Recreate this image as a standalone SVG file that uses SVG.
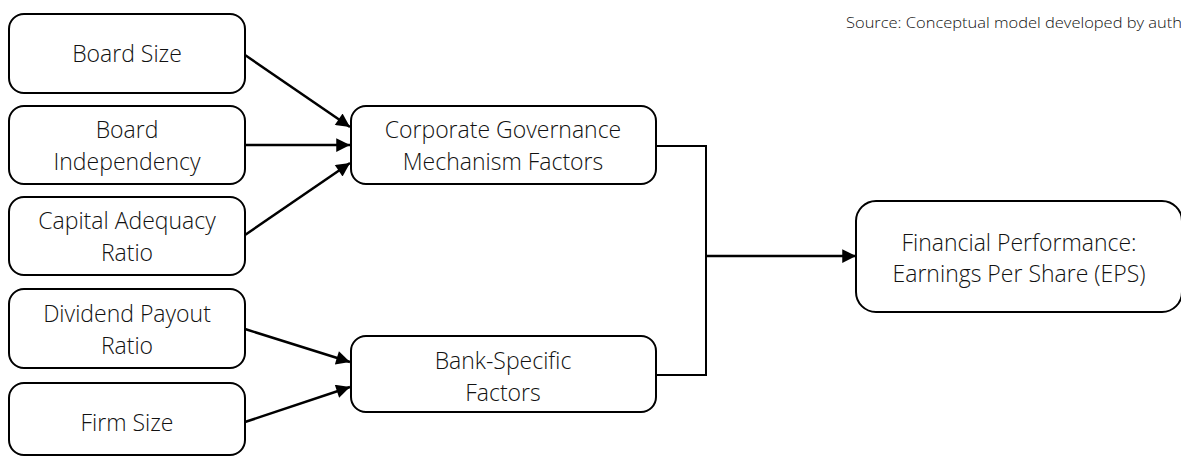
<svg xmlns="http://www.w3.org/2000/svg" width="1181" height="456" viewBox="0 0 1181 456">
  <defs>
    <marker id="arrow" viewBox="0 0 10 10" refX="10" refY="5" markerWidth="7" markerHeight="5.5" markerUnits="strokeWidth" orient="auto">
      <path d="M0,0 L10,5 L0,10 z" fill="#000"/>
    </marker>
  </defs>
  <style>
    .box { fill: #fff; stroke: #000; stroke-width: 2; }
    .lbl { font-family: "Open Sans", "Liberation Sans", sans-serif; font-weight: 300; font-size: 23px; fill: #111; text-anchor: middle; }
    .src { font-family: "Open Sans", "Liberation Sans", sans-serif; font-weight: 300; font-size: 14px; fill: #111; }
    .edge { fill: none; stroke: #000; stroke-width: 2.5; }
    .join { fill: none; stroke: #000; stroke-width: 2; }
  </style>
  <rect width="1181" height="456" fill="#fff"/>

  <text class="src" x="846" y="28" textLength="336" lengthAdjust="spacingAndGlyphs">Source: Conceptual model developed by auth</text>

  <g id="connectors">
    <line class="edge" x1="245" y1="55" x2="350" y2="127" marker-end="url(#arrow)"/>
    <line class="edge" x1="245" y1="145" x2="350" y2="145" marker-end="url(#arrow)"/>
    <line class="edge" x1="245" y1="235" x2="350" y2="163" marker-end="url(#arrow)"/>
    <line class="edge" x1="245" y1="329" x2="350" y2="362" marker-end="url(#arrow)"/>
    <line class="edge" x1="245" y1="422" x2="350" y2="387" marker-end="url(#arrow)"/>
    <polyline class="join" points="656,146 706,146 706,375 656,375"/>
    <line class="edge" x1="706" y1="256" x2="856" y2="256" marker-end="url(#arrow)"/>
  </g>

  <g id="board-size">
    <rect class="box" x="9" y="14" width="236" height="79" rx="15"/>
    <text class="lbl" x="127" y="62">Board Size</text>
  </g>
  <g id="board-independency">
    <rect class="box" x="9" y="106" width="236" height="78" rx="15"/>
    <text class="lbl" x="127" y="138">Board</text>
    <text class="lbl" x="127" y="170">Independency</text>
  </g>
  <g id="capital-adequacy">
    <rect class="box" x="9" y="197" width="236" height="78" rx="15"/>
    <text class="lbl" x="127" y="229">Capital Adequacy</text>
    <text class="lbl" x="127" y="261">Ratio</text>
  </g>
  <g id="dividend-payout">
    <rect class="box" x="9" y="289" width="236" height="79" rx="15"/>
    <text class="lbl" x="127" y="322">Dividend Payout</text>
    <text class="lbl" x="127" y="354">Ratio</text>
  </g>
  <g id="firm-size">
    <rect class="box" x="9" y="383" width="236" height="72" rx="15"/>
    <text class="lbl" x="127" y="431">Firm Size</text>
  </g>
  <g id="corporate-governance">
    <rect class="box" x="351" y="106" width="305" height="78" rx="15"/>
    <text class="lbl" x="503" y="138">Corporate Governance</text>
    <text class="lbl" x="503" y="170">Mechanism Factors</text>
  </g>
  <g id="bank-specific">
    <rect class="box" x="351" y="336" width="305" height="76" rx="15"/>
    <text class="lbl" x="503" y="369">Bank-Specific</text>
    <text class="lbl" x="503" y="401">Factors</text>
  </g>
  <g id="financial-performance">
    <rect class="box" x="856" y="201" width="326" height="111" rx="20"/>
    <text class="lbl" x="1019" y="251">Financial Performance:</text>
    <text class="lbl" x="1019" y="282">Earnings Per Share (EPS)</text>
  </g>
</svg>
